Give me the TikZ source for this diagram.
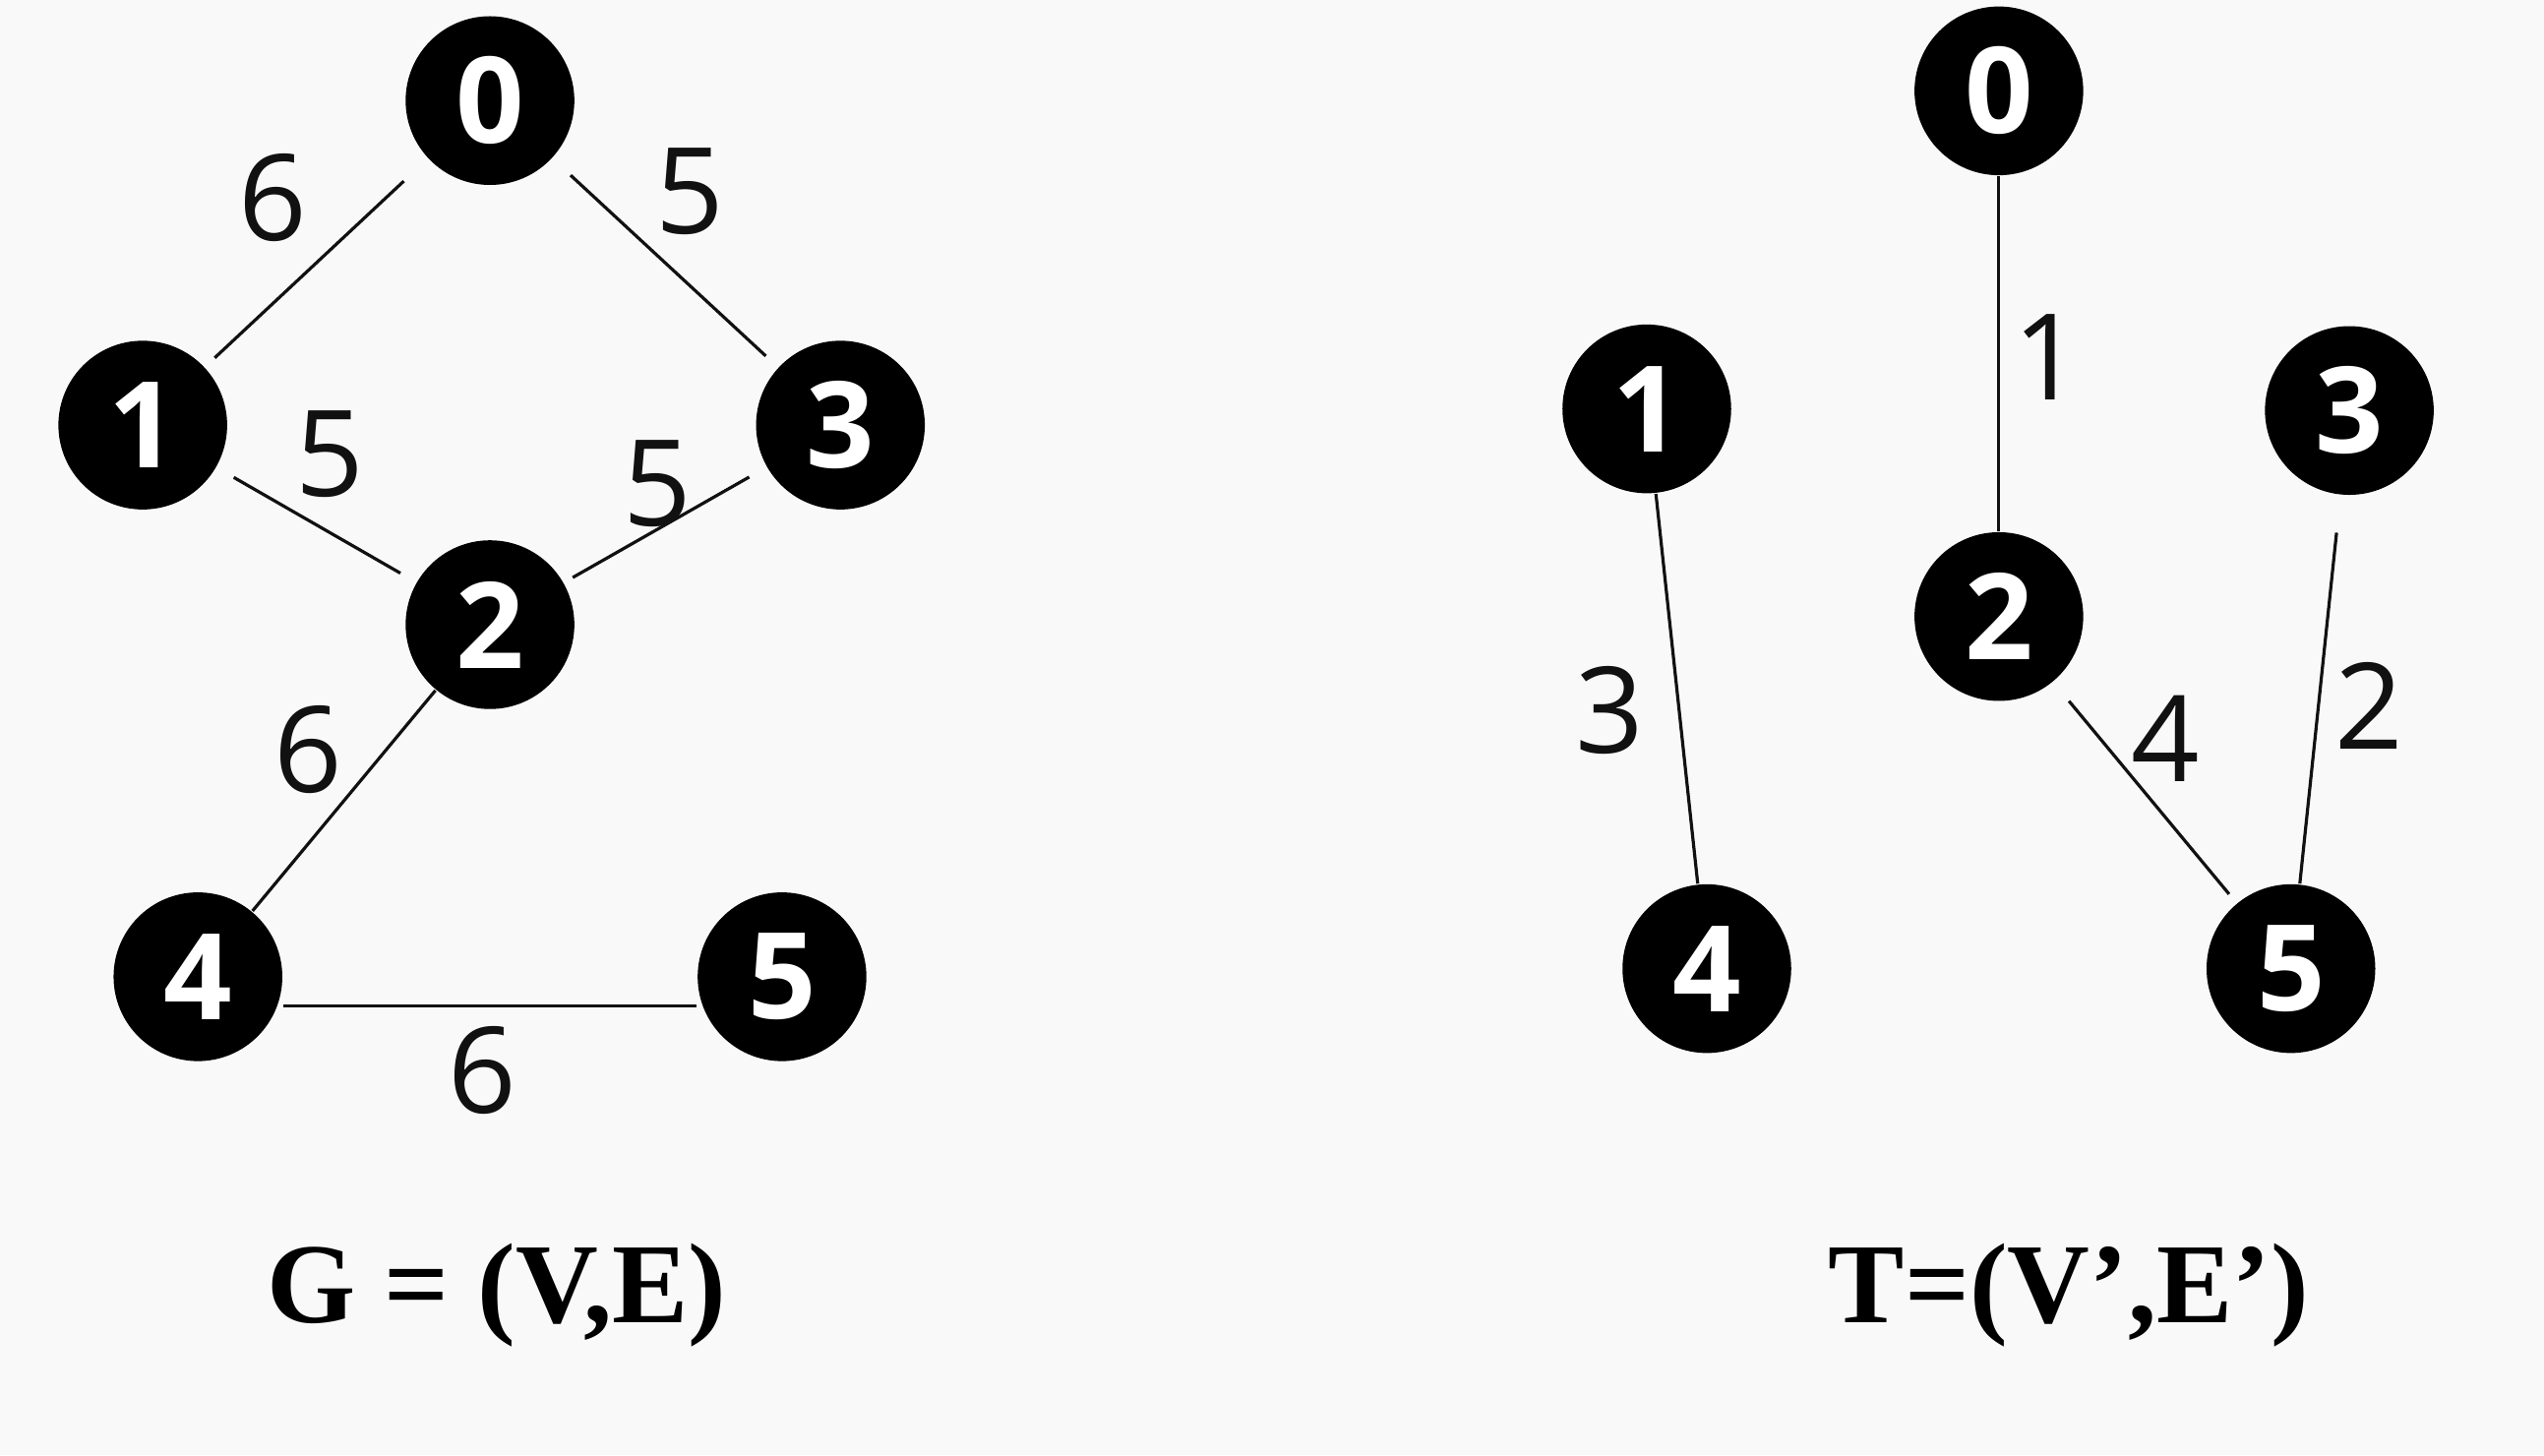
\documentclass[tikz,border=0pt]{standalone}
\usepackage{fontspec}
\setmainfont{Open Sans}[Numbers=Lining]
\newfontfamily\capfont{Liberation Serif}[BoldFont={Liberation Serif Bold}]
\usetikzlibrary{positioning,calc}
\definecolor{inkblack}{HTML}{111111}
\definecolor{paper}{HTML}{F9F9F9}

\begin{document}
\begin{tikzpicture}[
    every node/.style={font=\fontsize{21}{24}\selectfont},
    vertex/.style={circle, fill=black, text=white, minimum size=1.04cm,
        inner sep=0pt, font=\fontsize{21}{24}\selectfont\bfseries},
    wlabel/.style={inner sep=0pt, text=inkblack},
    edge/.style={draw=inkblack, line width=0.55pt},
    caption/.style={anchor=base, font=\fontsize{20}{24}\selectfont\capfont\bfseries},
]

% Canvas
\fill[paper] (0,0) rectangle (15.68,8.97);
\useasboundingbox (0,0) rectangle (15.68,8.97);

% Graph G
\node[vertex] (g0) at (3.02, 8.35) {0};
\node[vertex] (g1) at (0.88, 6.35) {1};
\node[vertex] (g3) at (5.18, 6.35) {3};
\node[vertex] (g2) at (3.02, 5.12) {2};
\node[vertex] (g4) at (1.22, 2.95) {4};
\node[vertex] (g5) at (4.82, 2.95) {5};

\draw[edge, shorten <=2mm, shorten >=0.8mm] (g0) -- (g1);
\draw[edge, shorten <=1.5mm, shorten >=1mm] (g0) -- (g3);
\draw[edge, shorten <=1.2mm, shorten >=1.1mm] (g1) -- (g2);
\draw[edge, shorten <=0.6mm, shorten >=1.2mm] (g2) -- (g3);
\draw[edge] (g2) -- (g4);
\draw[edge] ([yshift=-1.8mm]g4.east) -- ([yshift=-1.8mm]g5.west);

\node[wlabel] (w01) at (1.68, 7.75) {6};
\node[wlabel] (w03) at (4.25, 7.79) {5};
\node[wlabel] (w12) at (2.03, 6.17) {5};
\node[wlabel] (w23) at (4.05, 5.99) {5};
\node[wlabel] (w24) at (1.90, 4.35) {6};
\node[wlabel] (w45) at (2.97, 2.37) {6};

% Tree T
\node[vertex] (t0) at (12.32, 8.41) {0};
\node[vertex] (t1) at (10.15, 6.45) {1};
\node[vertex] (t3) at (14.48, 6.44) {3};
\node[vertex] (t2) at (12.32, 5.17) {2};
\node[vertex] (t4) at (10.52, 3.00) {4};
\node[vertex] (t5) at (14.12, 3.00) {5};

\draw[edge] (t0) -- (t2);
\draw[edge] (t1) -- (t4);
\draw[edge, shorten <=1.5mm, shorten >=0.7mm] (t2) -- (t5);
\draw[edge, shorten <=2.3mm] (t3) -- (t5);

\node[wlabel] (v02) at (12.62, 6.77) {1};
\node[wlabel] (v14) at (9.92, 4.59) {3};
\node[wlabel] (v25) at (13.35, 4.42) {4};
\node[wlabel] (v35) at (14.60, 4.62) {2};

% Captions
\node[caption] (capG) at (3.06, 0.82) {G = (V,E)};
\node[caption] (capT) at (12.75, 0.82) {T=(V’,E’)};

\end{tikzpicture}
\end{document}
